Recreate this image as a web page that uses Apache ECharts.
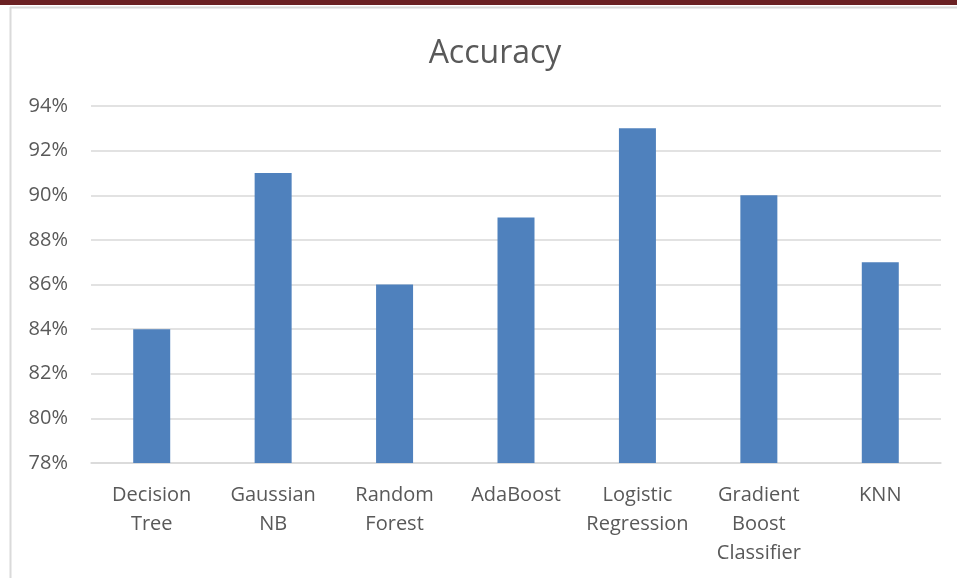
<!DOCTYPE html>
<html><head><meta charset="utf-8">
<script src="https://cdn.jsdelivr.net/npm/echarts@6/dist/echarts.min.js"></script>
<style>html,body{margin:0;padding:0;background:#fff}#c{width:957px;height:578px}</style>
</head><body><div id="c"></div>
<script>
const categories = ['Decision\nTree','Gaussian\nNB','Random\nForest','AdaBoost','Logistic\nRegression','Gradient\nBoost\nClassifier','KNN'];
const accuracy = [84, 91, 86, 89, 93, 90, 87];
const yTicks = { min: 78, max: 94, interval: 2 };
const titleText = 'Accuracy';

const chart = echarts.init(document.getElementById('c'));
const font = '"Open Sans", "Liberation Sans", sans-serif';
chart.setOption({
  animation: false,
  backgroundColor: '#fff',
  graphic: [
    { type: 'rect', shape: { x: 0, y: 0, width: 957, height: 5 }, style: { fill: '#6B2123' } },
    { type: 'line', shape: { x1: 10, y1: 7.5, x2: 957, y2: 7.5 }, style: { stroke: '#DADADA', lineWidth: 2 } },
    { type: 'line', shape: { x1: 10.5, y1: 7, x2: 10.5, y2: 578 }, style: { stroke: '#DADADA', lineWidth: 2 } }
  ],
  title: {
    text: titleText, left: 490, top: 33, textAlign: 'center',
    textStyle: { fontFamily: font, fontSize: 32, fontWeight: 'normal', color: '#595959' }
  },
  grid: { left: 91, right: 16, top: 106, bottom: 115 },
  xAxis: {
    type: 'category', data: categories,
    axisLine: { lineStyle: { color: '#D9D9D9', width: 1.5 } },
    axisTick: { show: false },
    axisLabel: { fontFamily: font, fontSize: 20, color: '#595959', lineHeight: 29, margin: 18, interval: 0 }
  },
  yAxis: {
    type: 'value', min: yTicks.min, max: yTicks.max, interval: yTicks.interval,
    axisLine: { show: false }, axisTick: { show: false },
    splitLine: { lineStyle: { color: '#D9D9D9', width: 1.5 } },
    axisLabel: { formatter: '{value}%', fontFamily: font, fontSize: 20, color: '#595959', margin: 23 }
  },
  series: [{
    type: 'bar', data: accuracy, barWidth: 37,
    itemStyle: { color: '#4F81BD' }
  }]
});
</script></body></html>
